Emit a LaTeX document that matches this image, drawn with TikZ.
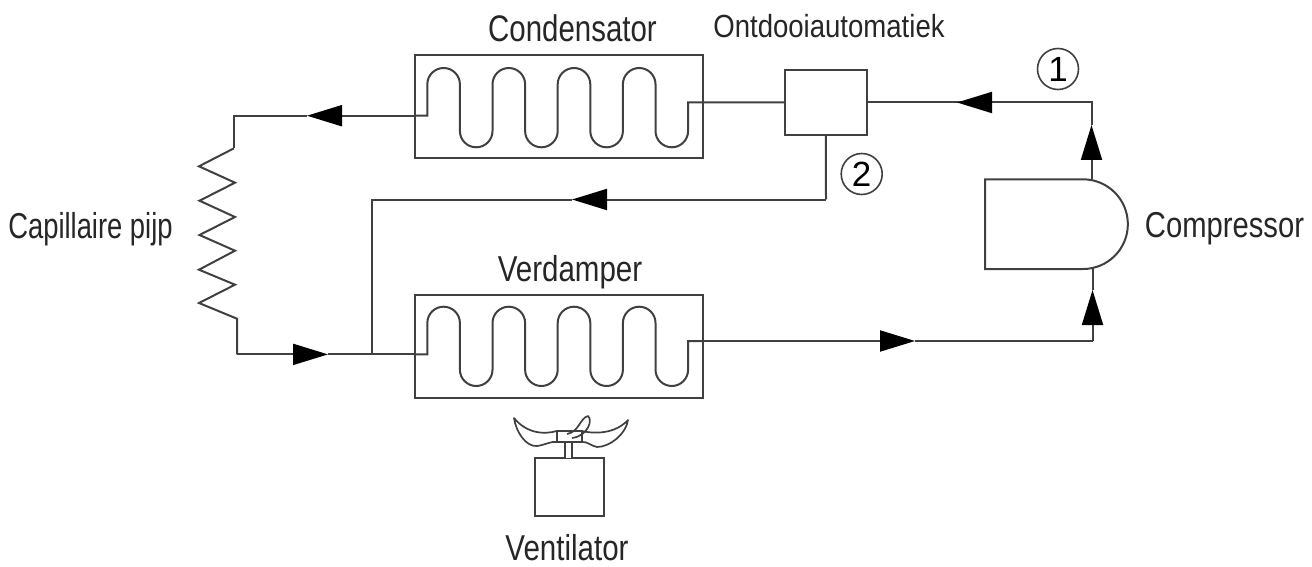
\documentclass[tikz,border=0pt]{standalone}
\usepackage{fontspec}
\setmainfont{Liberation Sans}
\usetikzlibrary{arrows.meta}
\definecolor{ink}{HTML}{404040}
\tikzset{
  x=1pt,y=-1pt,
  wire/.style={draw=ink,line width=2pt,line join=miter},
  blade/.style={draw=ink,line width=1.7pt,line join=round},
  flow/.style={wire,-{Triangle[length=35pt,width=21pt,color=black]}},
  unit/.style={draw=ink,line width=2pt,fill=white,inner sep=0pt,outer sep=0pt,rectangle},
  label/.style={inner sep=0pt,anchor=base,text=black!85,font=\fontsize{36}{36}\selectfont,xscale=.82},
  numbered/.style={circle,draw=ink,line width=1.6pt,minimum size=41pt,inner sep=0pt,font=\fontsize{35}{35}\selectfont},
  coil/.pic={
    \draw[wire] (0,0) coordinate (-in) -- (12.6,0) -- (12.6,-31.4)
      arc[start angle=180,end angle=360,radius=16.3] -- ++(0,46.7)
      arc[start angle=180,end angle=0,radius=16.3] -- ++(0,-46.7)
      arc[start angle=180,end angle=360,radius=16.3] -- ++(0,46.7)
      arc[start angle=180,end angle=0,radius=16.3] -- ++(0,-46.7)
      arc[start angle=180,end angle=360,radius=16.3] -- ++(0,46.7)
      arc[start angle=180,end angle=0,radius=16.3] -- ++(0,-46.7)
      arc[start angle=180,end angle=360,radius=16.3] -- ++(0,46.7)
      arc[start angle=180,end angle=0,radius=16.3] -- (273.4,-13.4) -- (288,-13.4) coordinate (-out);
  }
}
\begin{document}
\begin{tikzpicture}
\useasboundingbox (0,0) rectangle (1312,567);
% units
\node[unit,minimum width=288pt,minimum height=102.7pt] (cond) at (558.7,106.4) {};
\node[unit,minimum width=288pt,minimum height=102.7pt] (evap) at (558.7,346.4) {};
\node[unit,minimum width=81.7pt,minimum height=65pt] (defrost) at (825.85,102.5) {};
\node[unit,minimum width=69pt,minimum height=58pt] (motor) at (569.5,487.3) {};
\pic (condcoil) at (414.7,115.7) {coil};
\pic (evapcoil) at (414.7,354.4) {coil};
% compressor
\draw[unit] (985,179.3) -- (1083,179.3) arc[start angle=-90,end angle=90,radius=44.85] -- (985,269) -- cycle;
\coordinate (comptop) at (1091.5,180);
\coordinate (compbot) at (1092.5,268.3);
% bends and arrow tips
\coordinate (c1) at (1091.5,102.5);
\coordinate (t1) at (1091.5,125);
\coordinate (t2) at (957,102.5);
\coordinate (t3) at (307,115.7);
\coordinate (b1) at (234,115.7);
\coordinate (b2) at (234,148.3);
\coordinate (z1) at (237,318.7);
\coordinate (b3) at (237,354.4);
\coordinate (t4) at (328,354.4);
\coordinate (j) at (371.7,354.4);
\coordinate (b4) at (371.7,199.5);
\coordinate (b5) at (826,199.5);
\coordinate (t5) at (572,199.5);
\coordinate (t6) at (915,341);
\coordinate (b6) at (1092.5,341);
\coordinate (t7) at (1092.5,290);
% connectors
\draw[flow] (comptop) -- (t1);
\draw[wire] (t1) -- (c1) -- (t2);
\draw[flow] (c1) -- (t2);
\draw[wire] (t2) -- (defrost.east);
\draw[wire] (defrost.west) -- (condcoil-out);
\draw[flow] (condcoil-in) -- (t3);
\draw[wire] (t3) -- (b1) -- (b2);
\draw[wire] (b2) -- (199,166.3) -- (235,182.7) -- (199.5,200.7) -- (235,217) -- (199.5,235) -- (235,250.7) -- (199,269.7) -- (235,284.7) -- (199,303) -- (z1) -- (b3);
\draw[flow] (b3) -- (t4);
\draw[wire] (t4) -- (evapcoil-in);
\draw[wire] (j) -- (b4) -- (t5);
\draw[flow] (b5) -- (t5);
\draw[wire] (defrost.south) -- (b5);
\draw[flow] (evapcoil-out |- t6) -- (t6);
\draw[wire] (t6) -- (b6);
\draw[flow] (b6) -- (t7);
\draw[wire] (t7) -- (compbot);
% fan
\node[unit,line width=1.7pt,minimum width=6.7pt,minimum height=17pt] (shaft) at (568.3,450) {};
\node[unit,line width=1.7pt,minimum width=25pt,minimum height=11pt] (hub) at (569.2,436.5) {};
\draw[blade] (hub.north west) .. controls (545,434.5) and (527,434) .. (514,418)
  .. controls (516,432) and (526,447) .. (537,446) .. controls (545,445) and (551,441) .. (hub.south west);
\draw[blade] (hub.north east) .. controls (595,434) and (615,434) .. (628,420)
  .. controls (626,434) and (610,447) .. (597,447) .. controls (591,446) and (587,441) .. (hub.south east);
\draw[blade] (567,434) .. controls (579,432) and (580,418) .. (588,416)
  .. controls (593,420) and (588,436) .. (572,438);
% texts
\node[label,font=\fontsize{37}{37}\selectfont,xscale=.97] (tcond) at (572.5,41.5) {Condensator};
\node[label,font=\fontsize{32}{32}\selectfont,xscale=1.05] (tdef) at (829,38) {Ontdooiautomatiek};
\node[label,xscale=.927] (tcap) at (90.5,238) {Capillaire pijp};
\node[label] (tevap) at (570,281) {Verdamper};
\node[label,xscale=.99] (tcomp) at (1224.5,237.7) {Compressor};
\node[label] (tvent) at (567,560) {Ventilator};
\node[numbered] (n1) at (1058,69) {1};
\node[numbered] (n2) at (861.7,174) {2};
\end{tikzpicture}
\end{document}
